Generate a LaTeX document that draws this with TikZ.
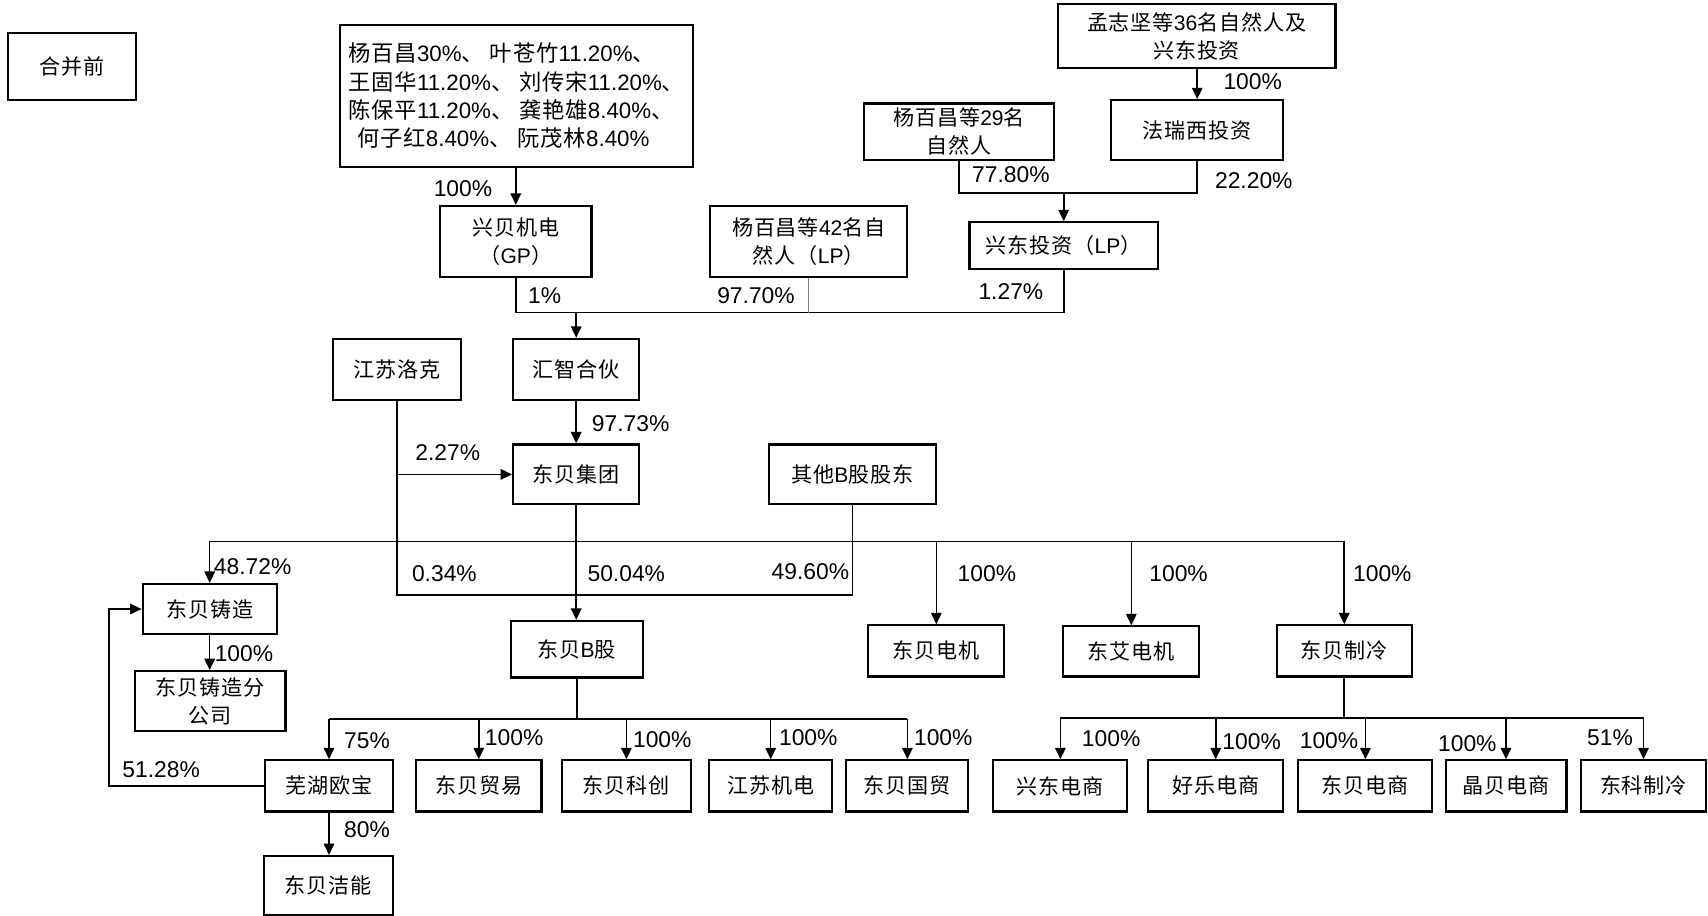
\documentclass[tikz,border=0pt]{standalone}
\usepackage{fontspec}
\setmainfont{Liberation Sans}
\newfontfamily\cjk[LetterSpace=4]{Noto Sans CJK SC}
\usetikzlibrary{arrows.meta}
\newcommand\lat[1]{{\rmfamily #1}}

\begin{document}
\begin{tikzpicture}[x=0.02cm, y=-0.02cm,
    box/.style 2 args={shape=rectangle, draw=black, line width=1.2pt,
        minimum width=#1*0.02cm, minimum height=#2*0.02cm, inner sep=0pt,
        align=center, font=\fontsize{12}{16}\selectfont\cjk},
    pct/.style={inner sep=0pt, font=\fontsize{13}{15}\selectfont},
    link/.style={line width=0.9pt},
    >={Triangle[length=6.5pt, width=6pt]}]
    \useasboundingbox (0,0) rectangle (1708,916);

    \node [box={128.6}{67.5}] (title) at (71.9, 66.5) {合并前};
    \node [box={352.9}{141.6}, align=left, font=\fontsize{12.7}{16.1}\selectfont\cjk] (holders) at (516.3, 95.9)
        {杨百昌\lat{30\%}、 叶苍竹\lat{11.20\%}、\\
         王固华\lat{11.20\%}、 刘传宋\lat{11.20\%}、\\
         陈保平\lat{11.20\%}、 龚艳雄\lat{8.40\%}、\\
         \hspace{0.4em}何子红\lat{8.40\%}、 阮茂林\lat{8.40\%}};
    \node [box={151.4}{70.8}] (gp) at (515.8, 241.3) {兴贝机电\\（\lat{GP}）};
    \node [box={197.2}{70.8}] (p42) at (808.8, 241.3) {杨百昌等\lat{42}名自\\然人（\lat{LP}）};
    \node [box={277.8}{63.2}] (mzj) at (1196.6, 36) {孟志坚等\lat{36}名自然人及\\兴东投资};
    \node [box={172.1}{59.9}] (frx) at (1197.2, 130.2) {法瑞西投资};
    \node [box={190.6}{56.6}] (p29) at (959.1, 131.8) {杨百昌等\lat{29}名\\自然人};
    \node [box={188.4}{46.9}] (xdlp) at (1063.7, 245.7) {兴东投资（\lat{LP}）};
    \node [box={127.5}{61}] (jslk) at (397, 369.3) {江苏洛克};
    \node [box={126.3}{61}] (hzhh) at (576.2, 369.3) {汇智合伙};
    \node [box={126.3}{59.9}] (dbjt) at (576.2, 474.4) {东贝集团};
    \node [box={166.7}{59.9}] (qtgd) at (852.4, 474.4) {其他\lat{B}股股东};
    \node [box={134}{50.1}] (dbzz) at (209.7, 609) {东贝铸造};
    \node [box={150.3}{59.9}] (zzfgs) at (210.3, 701) {东贝铸造分\\公司};
    \node [box={131.8}{56.6}] (dbB) at (576.8, 649.2) {东贝\lat{B}股};
    \node [box={136.1}{51.2}] (dbdj) at (936.3, 650.9) {东贝电机};
    \node [box={136.1}{50.2}] (dadj) at (1131.3, 651.4) {东艾电机};
    \node [box={135}{51.2}] (dbzl) at (1344.2, 650.9) {东贝制冷};
    \node [box={128.5}{51.2}] (whob) at (329, 785.9) {芜湖欧宝};
    \node [box={125.3}{51.2}] (dbmy) at (478.8, 785.9) {东贝贸易};
    \node [box={128.5}{51.2}] (dbkc) at (626.4, 785.9) {东贝科创};
    \node [box={123.1}{51.2}] (jsjd) at (770.7, 785.9) {江苏机电};
    \node [box={122}{51.2}] (dbgm) at (907.4, 785.9) {东贝国贸};
    \node [box={134}{51.2}] (xdds) at (1060.4, 785.9) {兴东电商};
    \node [box={135.1}{51.2}] (hlds) at (1215.7, 785.9) {好乐电商};
    \node [box={134}{51.2}] (dbds) at (1365.4, 785.9) {东贝电商};
    \node [box={120.9}{51.2}] (jbds) at (1506, 785.9) {晶贝电商};
    \node [box={125.3}{51.2}] (kzl) at (1643.5, 785.9) {东科制冷};
    \node [box={129.6}{59}] (dbjn) at (328.4, 885.5) {东贝洁能};

    % shareholdings above huizhi
    \coordinate (j29) at (1063.7, 192.8);
    \coordinate (jhz) at (576.2, 312.6);
    \draw [->, link] (holders.south -| gp) -- (gp.north);
    \draw [->, link] (mzj.south -| frx) -- (frx.north);
    \draw [link] (p29.south) -- (p29.south |- j29) -- (frx.south |- j29) -- (frx.south);
    \draw [->, link] (j29) -- (xdlp.north);
    \draw [link] (gp.south) -- (gp.south |- jhz) -- (xdlp.south |- jhz) -- (xdlp.south);
    \draw [gray, line width=0.6pt] (p42.south) -- (p42.south |- jhz);
    \draw [->, link] (jhz) -- (hzhh.north);

    % dongbei group and B shares
    \coordinate (jlow) at (576.2, 594.8);
    \coordinate (jup) at (576.2, 541.4);
    \draw [->, link] (hzhh) -- (dbjt);
    \draw [link] (jslk.south) -- (jslk.south |- jlow) -- (qtgd.south |- jlow) -- (qtgd.south);
    \draw [->, link] (jslk.south |- dbjt) -- (dbjt.west);
    \draw [->, link] (dbjt.south) -- (dbjt.south |- dbB.north);
    \draw [link] (dbzz.north |- jup) -- (dbzl.north |- jup);
    \draw [->, link] (dbzz.north |- jup) -- (dbzz.north);
    \draw [->, link] (dbdj.north |- jup) -- (dbdj.north);
    \draw [->, link] (dadj.north |- jup) -- (dadj.north);
    \draw [->, link] (dbzl.north |- jup) -- (dbzl.north);
    \draw [->, link] (dbzz.south) -- (dbzz.south |- zzfgs.north);

    % subsidiaries of B shares
    \coordinate (jB) at (576.8, 719);
    \coordinate (kob) at (108.9, 785.9);
    \draw [link] (dbB.south) -- (jB);
    \draw [link] (whob.north |- jB) -- (dbgm.north |- jB);
    \draw [->, link] (whob.north |- jB) -- (whob.north);
    \draw [->, link] (dbmy.north |- jB) -- (dbmy.north);
    \draw [->, link] (dbkc.north |- jB) -- (dbkc.north);
    \draw [->, link] (jsjd.north |- jB) -- (jsjd.north);
    \draw [->, link] (dbgm.north |- jB) -- (dbgm.north);
    \draw [->, link] (whob.south) -- (whob.south |- dbjn.north);
    \draw [->, link] (whob.west) -- (kob) |- (dbzz.west);

    % subsidiaries of refrigeration
    \coordinate (jZ) at (1344.2, 717.9);
    \draw [link] (dbzl.south) -- (jZ);
    \draw [link] (xdds.north |- jZ) -- (kzl.north |- jZ);
    \draw [->, link] (xdds.north |- jZ) -- (xdds.north);
    \draw [->, link] (hlds.north |- jZ) -- (hlds.north);
    \draw [->, link] (dbds.north |- jZ) -- (dbds.north);
    \draw [->, link] (jbds.north |- jZ) -- (jbds.north);
    \draw [->, link] (kzl.north |- jZ) -- (kzl.north);

    % percentages
    \node [pct] (r-gp) at (463, 188.5) {100\%};
    \node [pct] (r-frx) at (1252.7, 81.7) {100\%};
    \node [pct] (r-p29) at (1010.9, 174.3) {77.80\%};
    \node [pct] (r-frx2) at (1253.8, 180.8) {22.20\%};
    \node [pct] (r-gp2) at (544.7, 295.2) {1\%};
    \node [pct] (r-p42) at (756, 295.2) {97.70\%};
    \node [pct] (r-xdlp) at (1010.9, 291.9) {1.27\%};
    \node [pct] (r-hzhh) at (630.7, 423.7) {97.73\%};
    \node [pct] (r-jslk) at (447.7, 452.1) {2.27\%};
    \node [pct] (r-dbzz) at (252.7, 566.4) {48.72\%};
    \node [pct] (r-jslk2) at (444.4, 574.1) {0.34\%};
    \node [pct] (r-dbjt) at (626.3, 574.1) {50.04\%};
    \node [pct] (r-qtgd) at (810.4, 571.9) {49.60\%};
    \node [pct] (r-dbdj) at (986.9, 574.1) {100\%};
    \node [pct] (r-dadj) at (1178.6, 574.1) {100\%};
    \node [pct] (r-dbzl) at (1382.3, 574.1) {100\%};
    \node [pct] (r-zzfgs) at (244, 653.6) {100\%};
    \node [pct] (r-whob2) at (161.2, 770.1) {51.28\%};
    \node [pct] (r-whob) at (367.1, 740.7) {75\%};
    \node [pct] (r-dbmy) at (514.2, 737.5) {100\%};
    \node [pct] (r-dbkc) at (662.3, 739.6) {100\%};
    \node [pct] (r-jsjd) at (808.3, 737.5) {100\%};
    \node [pct] (r-dbgm) at (943.3, 737.5) {100\%};
    \node [pct] (r-dbjn) at (367.1, 830) {80\%};
    \node [pct] (r-xdds) at (1111.1, 738.5) {100\%};
    \node [pct] (r-hlds) at (1251.6, 741.8) {100\%};
    \node [pct] (r-dbds) at (1329, 740.7) {100\%};
    \node [pct] (r-jbds) at (1467.3, 744) {100\%};
    \node [pct] (r-kzl) at (1610, 737.5) {51\%};
\end{tikzpicture}
\end{document}
